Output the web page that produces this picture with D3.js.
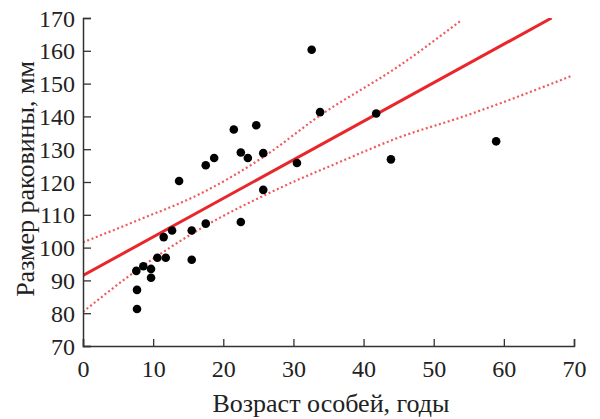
<!DOCTYPE html>
<html>
<head>
<meta charset="utf-8">
<script src="https://cdn.jsdelivr.net/npm/d3@7"></script>
<style>
  body { margin: 0; background: #fff; }
  text { font-family: "Liberation Serif", "DejaVu Serif", serif; fill: #222; }
</style>
</head>
<body>
<div id="chart"></div>
<script>
// точки: возраст (годы) и размер раковины (мм)
var ages = [7.7, 7.7, 7.6, 8.6, 9.7, 9.7, 10.6, 11.8, 11.5, 12.7, 13.7, 15.5, 15.5, 17.5, 17.5,
            18.7, 21.5, 22.5, 23.5, 22.5, 24.7, 25.7, 25.7, 30.5, 32.6, 33.8, 41.8, 43.9, 58.9];
var sizes = [81.3, 87.1, 92.9, 94.3, 90.8, 93.5, 96.9, 96.9, 103.2, 105.2, 120.3, 96.3, 105.2, 107.3, 125.1,
             127.3, 136.0, 129.0, 127.3, 107.8, 137.3, 128.8, 117.6, 125.8, 160.3, 141.3, 140.9, 126.9, 132.4];

// линия регрессии
var fitX = [0, 66.8];
var fitY = [91.5, 170];

// доверительные границы
var upperX = [0, 8, 16.7, 25.7, 33.8, 45.2, 54];
var upperY = [101.6, 108.5, 116.4, 127.6, 140.3, 155.6, 169.4];
var lowerX = [0, 8, 16.7, 28.1, 36.6, 45.2, 54, 69.6];
var lowerY = [80.4, 93.6, 105.7, 118.2, 126.1, 133.7, 139.8, 152.3];

var xTicks = [0, 10, 20, 30, 40, 50, 60, 70];
var yTicks = [70, 80, 90, 100, 110, 120, 130, 140, 150, 160, 170];

var width = 600, height = 419;
var margin = {left: 83, right: 26, top: 18, bottom: 73};

var svg = d3.select("#chart").append("svg")
    .attr("width", width)
    .attr("height", height);

var x = d3.scaleLinear().domain([0, 70]).range([margin.left, width - margin.right]);
var y = d3.scaleLinear().domain([70, 170]).range([height - margin.bottom, margin.top]);

svg.append("defs").append("clipPath").attr("id", "clip")
    .append("rect")
    .attr("x", x(0)).attr("y", y(170))
    .attr("width", x(70) - x(0)).attr("height", y(70) - y(170));

var plot = svg.append("g").attr("clip-path", "url(#clip)");

var line = d3.line()
    .x(function (d) { return x(d[0]); })
    .y(function (d) { return y(d[1]); })
    .curve(d3.curveMonotoneX);

// пунктирные границы
plot.append("path")
    .datum(d3.zip(upperX, upperY))
    .attr("d", line)
    .attr("fill", "none")
    .attr("stroke", "#ef5a5a")
    .attr("stroke-width", 2.2)
    .attr("stroke-dasharray", "2,2.6");

plot.append("path")
    .datum(d3.zip(lowerX, lowerY))
    .attr("d", line)
    .attr("fill", "none")
    .attr("stroke", "#ef5a5a")
    .attr("stroke-width", 2.2)
    .attr("stroke-dasharray", "2,2.6");

plot.append("path")
    .datum(d3.zip(fitX, fitY))
    .attr("d", line)
    .attr("fill", "none")
    .attr("stroke", "#e8262b")
    .attr("stroke-width", 3);

svg.selectAll(".dot")
    .data(d3.zip(ages, sizes))
    .join("circle")
    .attr("class", "dot")
    .attr("cx", function (d) { return x(d[0]); })
    .attr("cy", function (d) { return y(d[1]); })
    .attr("r", 4.3)
    .attr("fill", "#000");

// оси
var xAxis = svg.append("g")
    .attr("transform", "translate(0," + y(70) + ")")
    .call(d3.axisBottom(x).tickValues(xTicks).tickSize(-7).tickPadding(14).tickFormat(d3.format("d")));

var yAxis = svg.append("g")
    .attr("transform", "translate(" + x(0) + ",0)")
    .call(d3.axisLeft(y).tickValues(yTicks).tickSize(-8).tickPadding(8).tickFormat(d3.format("d")));

[xAxis, yAxis].forEach(function (a) {
    a.select(".domain").attr("stroke", "#333").attr("stroke-width", 1.5);
    a.selectAll(".tick line").attr("stroke", "#333").attr("stroke-width", 1.3);
    a.selectAll(".tick text")
        .attr("font-family", "Liberation Serif")
        .attr("font-size", "24px")
        .attr("fill", "#222");
});
yAxis.selectAll(".tick text").attr("dy", "0.34em");

svg.append("text")
    .attr("x", 331)
    .attr("y", 412)
    .attr("text-anchor", "middle")
    .attr("font-size", "26px")
    .text("Возраст особей, годы");

svg.append("text")
    .attr("transform", "translate(34,179) rotate(-90)")
    .attr("text-anchor", "middle")
    .attr("font-size", "26px")
    .text("Размер раковины, мм");
</script>
</body>
</html>
